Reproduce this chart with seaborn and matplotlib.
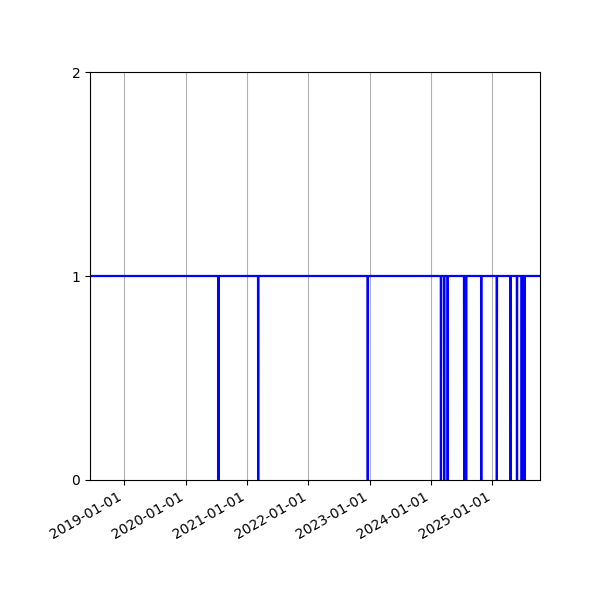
import matplotlib
matplotlib.use('Agg')
import matplotlib.pyplot as plt
import matplotlib.dates as mdates
import numpy as np
import pandas as pd
import seaborn as sns

# Daily status series: 1 (up) everywhere except the listed outage days (0)
START_DATE = '2018-06-10'
END_DATE = '2025-10-12'
ZERO_DATES = [
    '2020-07-14', '2021-03-08', '2022-12-21',
    '2024-03-01', '2024-03-20', '2024-04-10',
    '2024-07-17', '2024-07-29', '2024-10-27',
    '2025-01-28', '2025-04-20', '2025-05-28',
    '2025-06-25', '2025-07-12',
]
Y_TICKS = [0, 1, 2]

days = pd.date_range(START_DATE, END_DATE, freq='D')
status = pd.Series(1, index=days)
status[pd.to_datetime(ZERO_DATES)] = 0
df = pd.DataFrame({'date': days, 'status': status.values})

fig, ax = plt.subplots(figsize=(6, 6), dpi=100)
sns.lineplot(data=df, x='date', y='status', color='blue', linewidth=1.6, ax=ax)

ax.set_xlim(days[0], days[-1])
ax.set_ylim(0, 2)
ax.set_yticks(Y_TICKS)
ax.xaxis.set_major_locator(mdates.YearLocator())
ax.xaxis.set_major_formatter(mdates.DateFormatter('%Y-%m-%d'))
ax.grid(axis='x')
ax.set_xlabel('')
ax.set_ylabel('')

fig.autofmt_xdate()
fig.subplots_adjust(left=0.15, right=0.9, top=0.88, bottom=0.2)
fig.savefig('out.png', dpi=100)
